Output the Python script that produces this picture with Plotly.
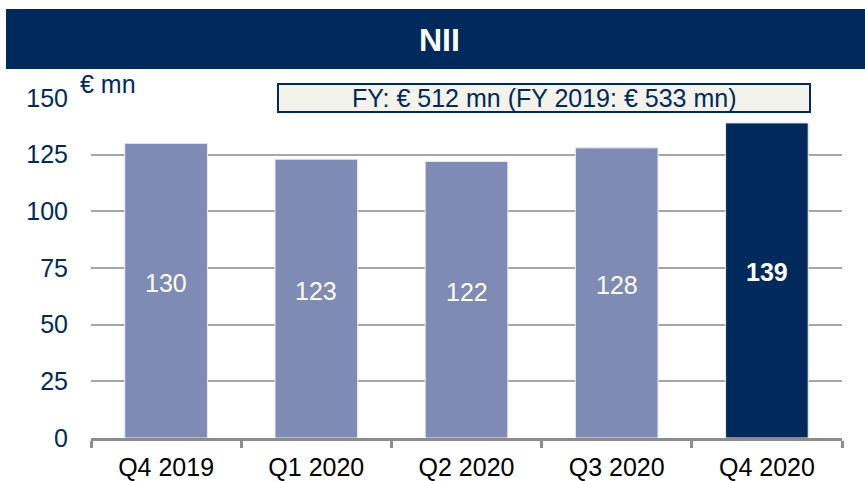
import plotly.graph_objects as go

categories = ["Q4 2019", "Q1 2020", "Q2 2020", "Q3 2020", "Q4 2020"]
values = [130, 123, 122, 128, 139]
labels = ["130", "123", "122", "128", "<b>139</b>"]
bar_colors = ["#7F8BB5", "#7F8BB5", "#7F8BB5", "#7F8BB5", "#002A5C"]
y_ticks = [0, 25, 50, 75, 100, 125, 150]

NAVY = "#002A5C"
W, H = 865, 481
L, R, T, B = 91, 23, 98, 43
PW, PH = W - L - R, H - T - B

def px(x):
    return (x - L) / PW

def py(y):
    return (H - B - y) / PH

FONT = "Liberation Sans, Arial"

fig = go.Figure()
fig.add_trace(go.Bar(
    x=categories, y=values,
    marker=dict(color=bar_colors, line=dict(color="#E8EAF2", width=1)),
    width=0.55,
))

for c, v, t in zip(categories, values, labels):
    fig.add_annotation(x=c, y=v / 2, text=t, showarrow=False, yshift=8,
                       xanchor="center", yanchor="middle",
                       font=dict(size=25, color="white", family=FONT))

fig.update_layout(
    width=W, height=H,
    margin=dict(l=L, r=R, t=T, b=B, pad=0, autoexpand=False),
    plot_bgcolor="white", paper_bgcolor="white",
    showlegend=False,
    font=dict(family=FONT),
    xaxis=dict(
        automargin=False,
        showline=True, linecolor="#8C8C8C", linewidth=3,
        ticks="outside", tickson="boundaries", ticklen=7, tickwidth=3, tickcolor="#8C8C8C",
        ticklabelstandoff=5,
        tickfont=dict(size=25, color="black"),
        showgrid=False,
    ),
    yaxis=dict(
        automargin=False,
        range=[0, 150], tickvals=y_ticks,
        showgrid=True, gridcolor="#A6A6A6", gridwidth=2,
        zeroline=False, showline=False,
        ticklabelstandoff=22,
        tickfont=dict(size=25, color=NAVY),
    ),
)

shapes = [
    dict(type="rect", xref="paper", yref="paper", layer="above",
         x0=px(6), x1=px(865), y0=py(69), y1=py(9),
         fillcolor=NAVY, line=dict(width=0)),
    dict(type="rect", xref="paper", yref="paper", layer="above",
         x0=px(278), x1=px(810), y0=py(112), y1=py(84),
         fillcolor="#F3F3EC", line=dict(color=NAVY, width=2)),
]
fig.update_layout(shapes=shapes)

fig.add_annotation(xref="paper", yref="paper", x=px(439), y=py(40),
                   xanchor="center", yanchor="middle",
                   text="<b>NII</b>", showarrow=False,
                   font=dict(size=32, color="white", family="Liberation Sans Narrow, Arial Narrow, Liberation Sans"))
fig.add_annotation(xref="paper", yref="paper", x=px(544), y=py(98),
                   xanchor="center", yanchor="middle",
                   text="FY: € 512 mn (FY 2019: € 533 mn)", showarrow=False,
                   font=dict(size=25, color=NAVY, family=FONT))
fig.add_annotation(xref="paper", yref="paper", x=px(108), y=py(84),
                   xanchor="center", yanchor="middle",
                   text="€ mn", showarrow=False,
                   font=dict(size=25, color=NAVY, family=FONT))

fig.write_html(
    "out.html",
    config={"displayModeBar": False},
    post_script="document.body.style.margin='0';document.documentElement.style.overflow='hidden';",
)
